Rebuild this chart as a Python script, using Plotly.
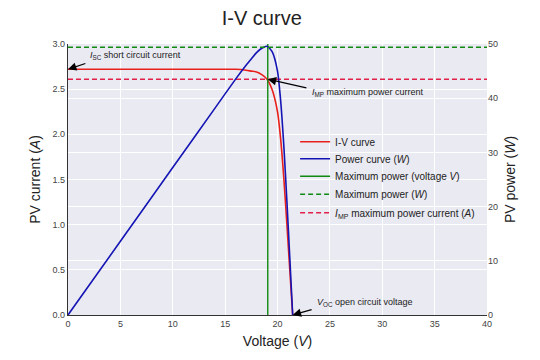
import plotly.graph_objects as go

# ---- data ----
voltage = [0, 5, 10, 14, 16, 17, 17.5, 18, 18.5, 19, 19.5, 20, 20.3, 20.6, 20.9, 21.2, 21.45]
current = [2.72, 2.72, 2.72, 2.72, 2.72, 2.71, 2.70, 2.69, 2.66, 2.61, 2.49, 2.25, 1.95, 1.52, 1.0, 0.45, 0.0]
power = [v * i for v, i in zip(voltage, current)]

v_mp = 19.07      # voltage at max power
p_max = 49.4      # maximum power (W)
i_mp = 2.61       # current at max power (A)
i_sc = 2.72       # short circuit current
v_oc = 21.45      # open circuit voltage

x_ticks = [0, 5, 10, 15, 20, 25, 30, 35, 40]
y_ticks = [0.0, 0.5, 1.0, 1.5, 2.0, 2.5, 3.0]
y2_ticks = [0, 10, 20, 30, 40, 50]

FONT = "Liberation Sans, Arial, sans-serif"
BG = "#EAEAF2"

fig = go.Figure()
fig.add_trace(go.Scatter(x=voltage, y=current, mode="lines", name="I-V curve", legend="legend",
                         line=dict(color="#e8201c", width=1.6, shape="spline", smoothing=0.6)))
fig.add_trace(go.Scatter(x=voltage, y=power, mode="lines", name="Power curve (<i>W</i>)", yaxis="y2",
                         legend="legend2",
                         line=dict(color="#1414b4", width=1.6, shape="spline", smoothing=0.6)))
fig.add_trace(go.Scatter(x=[v_mp, v_mp], y=[0, 3.0], mode="lines", name="Maximum power (voltage <i>V</i>)",
                         legend="legend3", line=dict(color="#108a10", width=1.4)))
fig.add_trace(go.Scatter(x=[0, 40], y=[p_max, p_max], mode="lines", name="Maximum power (<i>W</i>)", yaxis="y2",
                         legend="legend4", line=dict(color="#108a10", width=1.4, dash="5px,3px")))
fig.add_trace(go.Scatter(x=[0, 40], y=[i_mp, i_mp], mode="lines",
                         name="<i>I</i><sub>MP</sub> maximum power current (<i>A</i>)", legend="legend5",
                         line=dict(color="#e0204a", width=1.4, dash="5px,3px")))

arrow = dict(showarrow=True, arrowhead=2, arrowsize=1.4, arrowwidth=1.2, arrowcolor="black",
             axref="x", ayref="y", xref="x", yref="y", text="", standoff=0)
fig.add_annotation(x=0, y=i_sc, ax=1.8, ay=2.79, **arrow)
fig.add_annotation(x=v_mp, y=i_mp, ax=22.9, ay=2.51, **arrow)
fig.add_annotation(x=v_oc, y=0, ax=23.4, ay=0.065, **arrow)

txt = dict(showarrow=False, xref="x", yref="y", xanchor="left", yanchor="middle",
           font=dict(family=FONT, size=9, color="#222"))
fig.add_annotation(x=1.9, y=2.87, text="<i>I</i><sub>SC</sub> short circuit current", **txt)
fig.add_annotation(x=23.1, y=2.46, text="<i>I</i><sub>MP</sub> maximum power current", **txt)
fig.add_annotation(x=23.6, y=0.137, text="<i>V</i><sub>OC</sub> open circuit voltage", **txt)

# the page body adds an 8px offset, so the figure is 532x352 with margins reduced by 8px
PLOT_TOP, PLOT_BOTTOM = 36, 307
OFF = 8
legend_centers_px = [141.7, 158.7, 176.3, 194.3, 212.7]
legend_common = dict(x=0.542, xanchor="left", yanchor="middle", bgcolor="rgba(0,0,0,0)",
                     font=dict(family=FONT, size=10, color="#222"), itemwidth=30,
                     borderwidth=0)
legends = {}
for k, yc in enumerate(legend_centers_px):
    key = "legend" if k == 0 else f"legend{k + 1}"
    legends[key] = dict(y=(PLOT_BOTTOM - (yc - OFF)) / (PLOT_BOTTOM - PLOT_TOP), **legend_common)

fig.update_layout(
    width=532, height=352,
    margin=dict(l=60, r=53, t=36, b=45, autoexpand=False),
    paper_bgcolor="white", plot_bgcolor=BG,
    font=dict(family=FONT, color="#333"),
    title=dict(text="I-V curve", x=0.477, xanchor="center", y=0.972, yanchor="middle",
               font=dict(family=FONT, size=20, color="#222")),
    xaxis=dict(range=[0, 40], tickvals=x_ticks, ticktext=[str(t) for t in x_ticks],
               showgrid=True, gridcolor="white", gridwidth=1, zeroline=False, automargin=False,
               showline=True, linecolor="#333", linewidth=1.2, ticks="",
               tickfont=dict(size=9, color="#444"),
               title=dict(text="Voltage (<i>V</i>)", font=dict(size=14, color="#222"), standoff=8)),
    yaxis=dict(range=[0, 3.0], tickvals=y_ticks, ticktext=[f"{t:.1f}" for t in y_ticks],
               showgrid=True, gridcolor="white", gridwidth=1, zeroline=False, automargin=False,
               showline=True, linecolor="#333", linewidth=1.2, ticks="",
               tickfont=dict(size=9, color="#444"),
               title=dict(text="PV current (<i>A</i>)", font=dict(size=14, color="#222"), standoff=8)),
    yaxis2=dict(range=[0, 50], tickvals=y2_ticks, ticktext=[str(t) for t in y2_ticks],
                overlaying="y", side="right", automargin=False,
                showgrid=True, gridcolor="white", gridwidth=1, zeroline=False,
                showline=False, ticks="",
                tickfont=dict(size=9, color="#444"),
                title=dict(text="PV power (<i>W</i>)", font=dict(size=14, color="#222"), standoff=8)),
    showlegend=True,
    **legends,
)

fig.write_html("out.html")
